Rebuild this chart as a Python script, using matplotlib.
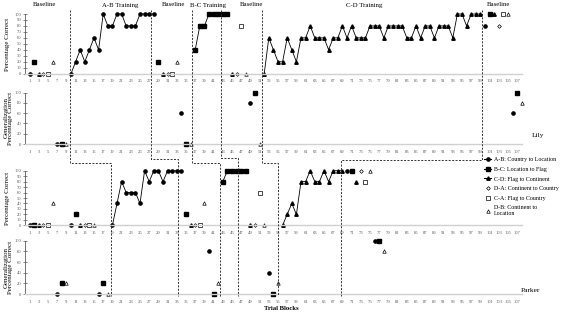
import matplotlib

matplotlib.use("Agg")

import matplotlib.pyplot as plt
from matplotlib.lines import Line2D

plt.rcParams["font.family"] = ["Liberation Serif", "DejaVu Serif"]

# ---- Lily, training panel ----
lily_ab_x = list(range(10, 29))
lily_ab_y = [0, 20, 40, 20, 40, 60, 40, 100, 80, 80, 100, 100, 80, 80, 80, 100, 100, 100, 100]
lily_bc_x = list(range(37, 44))
lily_bc_y = [40, 80, 80, 100, 100, 100, 100]
lily_cd_x = list(range(52, 100))
lily_cd_y = [0, 60, 40, 20, 20, 60, 40, 20, 60, 60, 80, 60, 60, 60, 40, 60,
             60, 80, 60, 80, 60, 60, 60, 80, 80, 80, 60, 80, 80, 80, 80, 60,
             60, 80, 60, 80, 80, 60, 80, 80, 80, 60, 100, 100, 80, 100, 100, 100]

lily_probes = {
    "ab": [(1, 0), (100, 80)],
    "bc": [(2, 20), (29, 20), (44, 100), (101, 100)],
    "cd": [(3, 0), (30, 0), (45, 0), (102, 100)],
    "da": [(4, 0), (31, 0), (46, 0), (103, 80)],
    "ca": [(5, 0), (32, 0), (47, 80), (104, 100)],
    "db": [(6, 20), (33, 20), (48, 0), (105, 100)],
}

# ---- Lily, generalization panel ----
lily_gen = {
    "ab": [(7, 0), (34, 60), (49, 80), (106, 60)],
    "bc": [(8, 0), (35, 0), (50, 100), (107, 100)],
    "db": [(9, 0), (36, 0), (51, 0), (108, 80)],
}

# ---- Parker, training panel ----
parker_ab_x = list(range(19, 35))
parker_ab_y = [0, 40, 80, 60, 60, 60, 40, 100, 80, 100, 100, 80, 100, 100, 100, 100]
parker_bc_x = list(range(43, 48))
parker_bc_y = [80, 100, 100, 100, 100]
parker_cd_x = list(range(56, 70))
parker_cd_y = [0, 20, 40, 20, 80, 80, 100, 80, 80, 100, 80, 100, 100, 100]

parker_probes = {
    "ab": [(1, 0), (10, 0), (70, 100)],
    "bc": [(2, 0), (11, 20), (35, 20), (48, 100), (71, 100)],
    "cd": [(3, 0), (12, 0), (36, 0), (49, 0), (72, 80)],
    "da": [(4, 0), (13, 0), (37, 0), (50, 0), (73, 100)],
    "ca": [(5, 0), (14, 0), (38, 0), (51, 60), (74, 80)],
    "db": [(6, 40), (15, 0), (39, 40), (52, 0), (75, 100)],
}

# ---- Parker, generalization panel ----
parker_gen = {
    "ab": [(7, 0), (16, 0), (40, 80), (53, 40), (76, 100)],
    "bc": [(8, 20), (17, 20), (41, 0), (54, 0), (77, 100)],
    "db": [(9, 20), (18, 0), (42, 20), (55, 20), (78, 80)],
}

# phase changes (trial block where the dashed line sits)
lily_phase = [9.8, 27.4, 36.2, 42.6, 51.6, 99.4]
parker_phase = [18.7, 33.3, 42.4, 46.2, 55.1, 68.8]

phase_names = ["Baseline", "A-B Training", "Baseline", "B-C Training",
               "Baseline", "C-D Training", "Baseline"]
phase_name_x = [4.3, 20.7, 32.2, 39.8, 49.3, 73.7, 103.0]

legend_keys = ["ab", "bc", "cd", "da", "ca", "db"]
legend_labels = ["A-B: Country to Location", "B-C: Location to Flag",
                 "C-D: Flag to Continent", "D-A: Continent to Country",
                 "C-A: Flag to Country", "D-B: Continent to\nLocation"]

STYLES = {
    "ab": dict(marker="o", mfc="black", mec="black", ms=2.3),
    "bc": dict(marker="s", mfc="black", mec="black", ms=2.2),
    "cd": dict(marker="^", mfc="black", mec="black", ms=2.5),
    "da": dict(marker="D", mfc="white", mec="black", ms=1.9, mew=0.5),
    "ca": dict(marker="s", mfc="white", mec="black", ms=2.2, mew=0.5),
    "db": dict(marker="^", mfc="white", mec="black", ms=2.5, mew=0.5),
}

W, H = 562, 313
X_LEFT, X_RIGHT = 25, 521.8
XMAX = 108
GREY = "#595959"

fig = plt.figure(figsize=(W / 100, H / 100), dpi=100)


def make_panel(top, bottom, step):
    ax = fig.add_axes([X_LEFT / W, (H - bottom) / H, (X_RIGHT - X_LEFT) / W, (bottom - top) / H])
    ax.set_xlim(0, XMAX)
    ax.set_ylim(0, 100)
    ax.patch.set_alpha(0)
    for side in ("top", "right"):
        ax.spines[side].set_visible(False)
    ax.spines["left"].set_color(GREY)
    ax.spines["left"].set_linewidth(0.6)
    ax.spines["bottom"].set_color("#d0d0d0")
    ax.spines["bottom"].set_linewidth(1.0)
    ax.set_xticks(range(1, XMAX, 2))
    ax.set_yticks(range(0, 101, step))
    ax.tick_params(axis="x", length=0, pad=4, labelsize=3.3, labelcolor=GREY)
    ax.tick_params(axis="y", direction="inout", length=2.5, width=0.5, color=GREY,
                   pad=1.2, labelsize=3.3, labelcolor=GREY)
    return ax


def draw_series(ax, xs, ys, key):
    ax.plot(xs, ys, color="black", lw=0.6, clip_on=False, **STYLES[key])


def draw_points(ax, probes):
    for key, pts in probes.items():
        xs = [p[0] for p in pts]
        ys = [p[1] for p in pts]
        ax.plot(xs, ys, ls="none", clip_on=False, **STYLES[key])


ax1 = make_panel(14, 73.7, 10)
draw_series(ax1, lily_ab_x, lily_ab_y, "ab")
draw_series(ax1, lily_bc_x, lily_bc_y, "bc")
draw_series(ax1, lily_cd_x, lily_cd_y, "cd")
draw_points(ax1, lily_probes)

ax2 = make_panel(92.7, 144, 20)
draw_points(ax2, lily_gen)

ax3 = make_panel(170.7, 225.3, 10)
draw_series(ax3, parker_ab_x, parker_ab_y, "ab")
draw_series(ax3, parker_bc_x, parker_bc_y, "bc")
draw_series(ax3, parker_cd_x, parker_cd_y, "cd")
draw_points(ax3, parker_probes)

ax4 = make_panel(240.7, 294, 20)
draw_points(ax4, parker_gen)

# overlay in trial-block x / pixel y for the staircase phase lines and headers
ov = fig.add_axes([X_LEFT / W, 0, (X_RIGHT - X_LEFT) / W, 1])
ov.set_xlim(0, XMAX)
ov.set_ylim(H, 0)
ov.axis("off")
ov.patch.set_alpha(0)

step_y = [162.7, 159, 162.7, 158, 162.7, 160]
for lx, px, sy in zip(lily_phase, parker_phase, step_y):
    ov.plot([lx, lx, px, px], [10, sy, sy, 296], color="#262626", lw=0.65,
            ls=(0, (2.2, 1.6)), clip_on=False)

for name, nx in zip(phase_names, phase_name_x):
    ov.text(nx, 5, name, ha="center", va="center", fontsize=4.9)

fig.text(8 / W, 1 - 44 / H, "Percentage Correct", rotation=90, ha="center", va="center", fontsize=5)
fig.text(8.5 / W, 1 - 118 / H, "Generalization\nPercentage Correct", rotation=90,
         ha="center", va="center", fontsize=5, linespacing=1.0)
fig.text(8 / W, 1 - 198 / H, "Percentage Correct", rotation=90, ha="center", va="center", fontsize=5)
fig.text(8.5 / W, 1 - 267 / H, "Generalization\nPercentage Correct", rotation=90,
         ha="center", va="center", fontsize=5, linespacing=1.0)

fig.text(281 / W, 1 - 309 / H, "Trial Blocks", ha="center", va="center", fontsize=4.8, weight="bold")
fig.text(538 / W, 1 - 136 / H, "Lily", ha="center", va="center", fontsize=5.3)
fig.text(530 / W, 1 - 291 / H, "Parker", ha="center", va="center", fontsize=5.3)

handles = []
for key in legend_keys:
    if key in ("ab", "bc", "cd"):
        handles.append(Line2D([], [], color="black", lw=0.8, **STYLES[key]))
    else:
        handles.append(Line2D([], [], ls="none", **STYLES[key]))
fig.legend(handles, legend_labels, loc="upper left", bbox_to_anchor=(484 / W, 1 - 157 / H),
           frameon=False, fontsize=4.3, handlelength=1.2, handletextpad=0.5,
           labelspacing=0.75, borderpad=0, borderaxespad=0)

fig.savefig("out.png", dpi=100)
